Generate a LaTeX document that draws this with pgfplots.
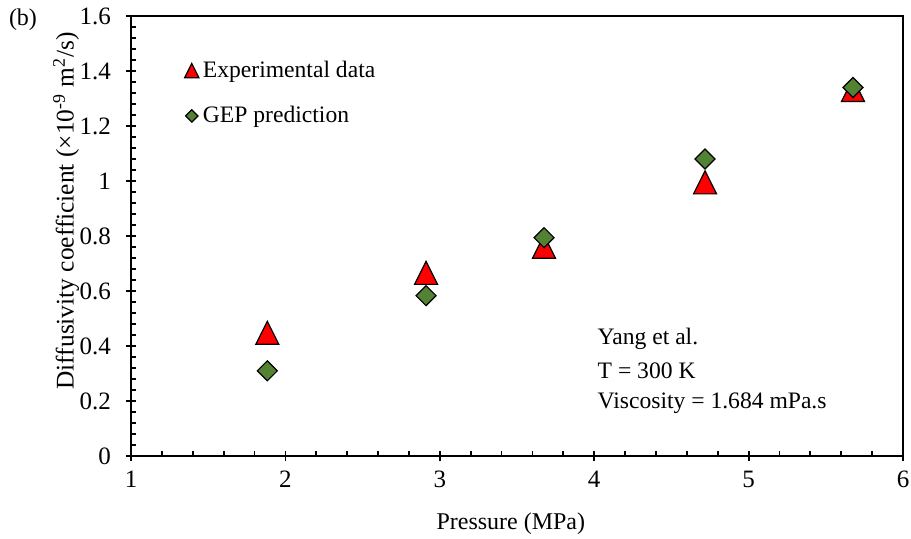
\documentclass[border=0pt]{standalone}
\usepackage{pgfplots}
\pgfplotsset{compat=1.18}
\usepackage{fontspec}
\setmainfont{Liberation Serif}
\definecolor{gepgreen}{RGB}{84,130,53}
\pgfdeclareplotmark{xltri}{%
  \pgfpathmoveto{\pgfqpoint{0pt}{\pgfplotmarksize}}%
  \pgfpathlineto{\pgfqpoint{\pgfplotmarksize}{-\pgfplotmarksize}}%
  \pgfpathlineto{\pgfqpoint{-\pgfplotmarksize}{-\pgfplotmarksize}}%
  \pgfpathclose
  \pgfusepathqfillstroke}
\pgfdeclareplotmark{xldia}{%
  \pgfpathmoveto{\pgfqpoint{0pt}{\pgfplotmarksize}}%
  \pgfpathlineto{\pgfqpoint{\pgfplotmarksize}{0pt}}%
  \pgfpathlineto{\pgfqpoint{0pt}{-\pgfplotmarksize}}%
  \pgfpathlineto{\pgfqpoint{-\pgfplotmarksize}{0pt}}%
  \pgfpathclose
  \pgfusepathqfillstroke}
\begin{document}
\begin{tikzpicture}
\begin{axis}[
  scale only axis,
  width=386pt, height=220pt,
  xmin=1, xmax=6, ymin=0, ymax=1.6,
  xtick={1,2,3,4,5,6},
  ytick={0,0.2,0.4,0.6,0.8,1,1.2,1.4,1.6},
  minor x tick num=4, minor y tick num=4,
  xtick pos=left, ytick pos=left,
  tick align=inside,
  major tick length=2.5pt, minor tick length=2.5pt,
  extra x ticks={1,2,3,4,5,6}, extra x tick labels={},
  extra y ticks={0,0.2,0.4,0.6,0.8,1,1.2,1.4,1.6}, extra y tick labels={},
  extra tick style={tick align=outside, major tick length=2.5pt},
  axis line style={line width=0.9pt, black},
  every tick/.style={line width=0.9pt, black},
  font=\fontsize{12.5}{14}\selectfont,
  /pgf/number format/assume math mode=true,
  xticklabel style={yshift=-4pt},
  yticklabel style={xshift=-6.5pt},
  xlabel={Pressure (MPa)},
  ylabel={Diffusivity coefficient (×10\textsuperscript{-9} m\textsuperscript{2}/s)},
  every axis x label/.style={at={(axis description cs:0.492,-0.155)}, anchor=center, font=\fontsize{12}{14}\selectfont},
  every axis y label/.style={at={(axis description cs:-0.084,0.557)}, rotate=90, anchor=center, font=\fontsize{12.7}{14}\selectfont},
  clip=false,
  legend style={at={(rel axis cs:0.069,0.908)}, anchor=north west, draw=none, fill=none,
    font=\fontsize{11.8}{13}\selectfont, row sep=9pt, inner sep=0pt},
  legend cell align=left,
  legend image code/.code={\draw[#1,/tikz/every mark/.append style={scale=0.62}] plot coordinates {(0pt,0pt)};},
]
\addplot[only marks, mark=xltri, mark size=5.75pt, mark options={fill=red, draw=black, line width=0.6pt}]
  coordinates {(1.883,0.448) (2.911,0.666) (3.675,0.761) (4.718,0.995) (5.676,1.331)};
\addlegendentry{Experimental data}
\addplot[only marks, mark=xldia, mark size=5pt, mark options={fill=gepgreen, draw=black, line width=0.6pt}]
  coordinates {(1.883,0.310) (2.911,0.583) (3.675,0.794) (4.718,1.080) (5.676,1.340)};
\addlegendentry{GEP prediction}
\node[anchor=west, inner sep=0pt, font=\fontsize{11.8}{13}\selectfont] at (axis cs:4.02,0.425) {Yang et al.};
\node[anchor=west, inner sep=0pt, font=\fontsize{11.8}{13}\selectfont] at (axis cs:4.02,0.309) {T = 300 K};
\node[anchor=west, inner sep=0pt, font=\fontsize{11.8}{13}\selectfont] at (axis cs:4.02,0.193) {Viscosity = 1.684 mPa.s};
\node[font=\fontsize{12}{14}\selectfont] at ([shift={(-54pt,-2pt)}]rel axis cs:0,1) {(b)};
\coordinate (bl) at (rel axis cs:0,0);
\coordinate (tr) at (rel axis cs:1,1);
\end{axis}
\pgfresetboundingbox
\path[use as bounding box] ([shift={(-65.5pt,-41pt)}]bl) rectangle ([shift={(4pt,8pt)}]tr);
\end{tikzpicture}
\end{document}
